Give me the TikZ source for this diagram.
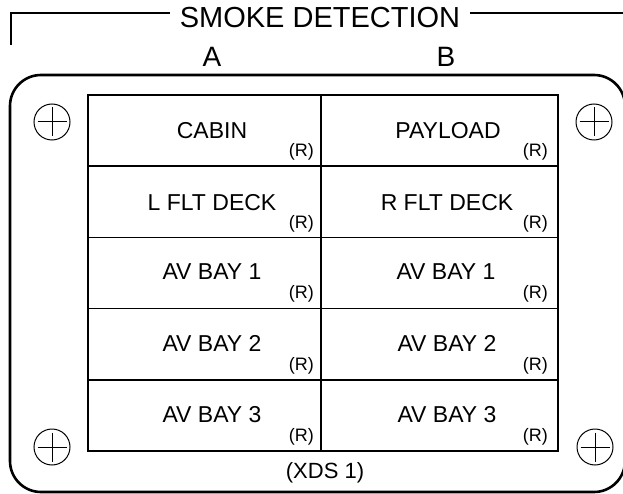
\documentclass[tikz,border=0pt]{standalone}
\usepackage{fontspec}
\setmainfont{Liberation Sans}

\begin{document}
\begin{tikzpicture}[x=1pt, y=-1pt,
		cell/.style={draw, rectangle, line width=1.7pt, minimum height=71.2pt, inner sep=0pt},
		bay/.style={inner sep=0pt, font=\fontsize{23}{27}\selectfont},
		rmark/.style={inner sep=0pt, anchor=east, font=\fontsize{18}{21}\selectfont},
		screw/.style={draw, circle, line width=1pt, minimum size=36pt, inner sep=0pt},
		cross/.style={line width=1pt, shorten <=4pt, shorten >=4pt}]
					\useasboundingbox (0,0) rectangle (623,494);
					% title bracket
					\coordinate (brkL) at (11,45);
					\coordinate (brkR) at (623,12.7);
					\draw[line width=1.7pt] (brkL) |- (brkR);
					\node[fill=white, inner xsep=10pt, inner ysep=0pt, font=\fontsize{29}{33}\selectfont] (title) at (320,18) {SMOKE DETECTION};
					\node[inner sep=0pt, font=\fontsize{28}{32}\selectfont] (colA) at (212,57) {A};
					\node[inner sep=0pt, font=\fontsize{28}{32}\selectfont] (colB) at (446,57) {B};
					% panel
					\draw[line width=2.6pt, rounded corners=31pt] (10,75) rectangle (625,492);
					% cells
					\node[cell, minimum width=233pt] (cabA) at (204.5,130.6) {};
					\node[cell, minimum width=237pt] (payB) at (439.5,130.6) {};
					\node[cell, minimum width=233pt] (fltA) at (204.5,201.8) {};
					\node[cell, minimum width=237pt] (fltB) at (439.5,201.8) {};
					\node[cell, minimum width=233pt] (avoneA) at (204.5,273) {};
					\node[cell, minimum width=237pt] (avoneB) at (439.5,273) {};
					\node[cell, minimum width=233pt] (avtwoA) at (204.5,344.2) {};
					\node[cell, minimum width=237pt] (avtwoB) at (439.5,344.2) {};
					\node[cell, minimum width=233pt] (avthreeA) at (204.5,415.4) {};
					\node[cell, minimum width=237pt] (avthreeB) at (439.5,415.4) {};
					% labels
					\node[bay] (lcabA) at (212,131) {CABIN};
					\node[bay] (lpayB) at (448,131) {PAYLOAD};
					\node[bay] (lfltA) at (212,203) {L FLT DECK};
					\node[bay] (lfltB) at (447,203) {R FLT DECK};
					\node[bay] (lavoneA) at (212,272) {AV BAY 1};
					\node[bay] (lavoneB) at (446,272) {AV BAY 1};
					\node[bay] (lavtwoA) at (212,343) {AV BAY 2};
					\node[bay] (lavtwoB) at (447,343) {AV BAY 2};
					\node[bay] (lavthreeA) at (212,415) {AV BAY 3};
					\node[bay] (lavthreeB) at (447,415) {AV BAY 3};
					\node[rmark] (rcabA) at (314,152) {(R)};
					\node[rmark] (rpayB) at (548,152) {(R)};
					\node[rmark] (rfltA) at (314,224) {(R)};
					\node[rmark] (rfltB) at (548,224) {(R)};
					\node[rmark] (ravoneA) at (314,294) {(R)};
					\node[rmark] (ravoneB) at (548,294) {(R)};
					\node[rmark] (ravtwoA) at (314,366) {(R)};
					\node[rmark] (ravtwoB) at (548,366) {(R)};
					\node[rmark] (ravthreeA) at (314,437) {(R)};
					\node[rmark] (ravthreeB) at (548,437) {(R)};
					\node[inner sep=0pt, font=\fontsize{22}{26}\selectfont] (xds) at (325,473) {(XDS 1)};
					% screws
					\node[screw] (sTL) at (52,122) {};
					\node[screw] (sTR) at (594,122) {};
					\node[screw] (sBL) at (52,447) {};
					\node[screw] (sBR) at (595,447) {};
					\draw[cross] (sTL.north) -- (sTL.south);
					\draw[cross] (sTL.west) -- (sTL.east);
					\draw[cross] (sTR.north) -- (sTR.south);
					\draw[cross] (sTR.west) -- (sTR.east);
					\draw[cross] (sBL.north) -- (sBL.south);
					\draw[cross] (sBL.west) -- (sBL.east);
					\draw[cross] (sBR.north) -- (sBR.south);
					\draw[cross] (sBR.west) -- (sBR.east);
				\end{tikzpicture}
\end{document}
